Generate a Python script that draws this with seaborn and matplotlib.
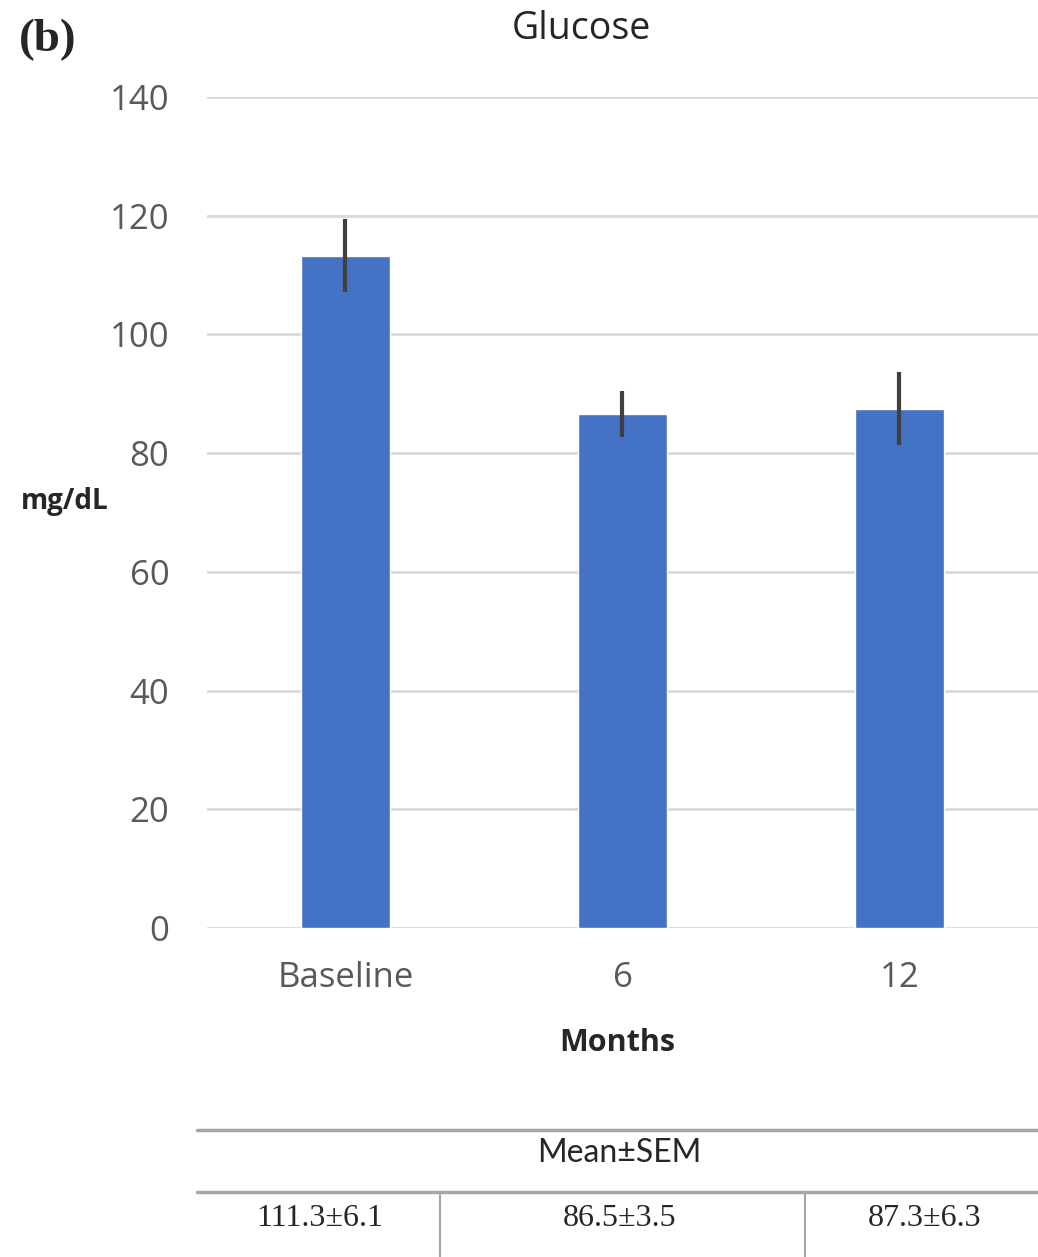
import pandas as pd
import matplotlib.pyplot as plt
import seaborn as sns
from matplotlib.lines import Line2D

# data
months = ['Baseline', '6', '12']
glucose = [113.3, 86.6, 87.5]
sem = [6.1, 3.8, 6.2]
table_labels = ['111.3±6.1', '86.5±3.5', '87.3±6.3']

df = pd.DataFrame({'Months': months, 'Glucose': glucose})

sns.set_style('white')
plt.rcParams['font.family'] = ['Open Sans', 'DejaVu Sans']

fig = plt.figure(figsize=(10.38, 12.57), dpi=100)
ax = fig.add_axes([0.1994, 0.2617, 0.8006, 0.6611])

sns.barplot(data=df, x='Months', y='Glucose', color='#4472C4', width=0.32,
            saturation=1, ax=ax, zorder=3)
ax.errorbar(months, glucose, yerr=sem, fmt='none', ecolor='#404040',
            elinewidth=3, capsize=0, zorder=4)

ax.set_ylim(0, 140)
ax.set_xlim(-0.5, 2.5)
ax.set_yticks(range(0, 141, 20))
ax.yaxis.grid(True, color='#d9d9d9', linewidth=2)
ax.set_axisbelow(True)
for s in ax.spines.values():
    s.set_visible(False)
ax.tick_params(axis='both', length=0, labelsize=25, colors='#595959')
ax.tick_params(axis='y', pad=27)
ax.tick_params(axis='x', pad=24)
ax.set_xlabel('')
ax.set_ylabel('')

# labels
fig.text(0.56, 0.977, 'Glucose', ha='center', va='center', fontsize=27, color='#262626')
fig.text(0.018, 0.968, '(b)', ha='left', va='center', fontsize=34, fontweight='bold',
         family=['Liberation Serif', 'DejaVu Serif'])
fig.text(0.02, 0.601, 'mg/dL', ha='left', va='center', fontsize=20, fontweight='bold',
         color='#262626')
fig.text(0.595, 0.170, 'Months', ha='center', va='center', fontsize=22, fontweight='bold',
         color='#262626')

# summary table below the chart
fig.add_artist(Line2D([0.19, 1.0], [1 - 1130 / 1257] * 2, color='#a6a6a6', lw=2.5,
                      transform=fig.transFigure))
fig.add_artist(Line2D([0.19, 1.0], [1 - 1192 / 1257] * 2, color='#a6a6a6', lw=2.5,
                      transform=fig.transFigure))
for xv in [440 / 1038, 805 / 1038]:
    fig.add_artist(Line2D([xv, xv], [1 - 1192 / 1257, 0], color='#a6a6a6', lw=1.5,
                          transform=fig.transFigure))
fig.text(0.597, 1 - 1153 / 1257, 'Mean±SEM', ha='center', va='center', fontsize=23,
         color='#262626', family=['Lato', 'DejaVu Sans'])
for xc, lab in zip([320, 620, 925], table_labels):
    fig.text(xc / 1038, 1 - 1218 / 1257, lab, ha='center', va='center', fontsize=23,
             color='#262626', family=['Liberation Serif', 'DejaVu Serif'])

fig.savefig('out.png', dpi=100)
